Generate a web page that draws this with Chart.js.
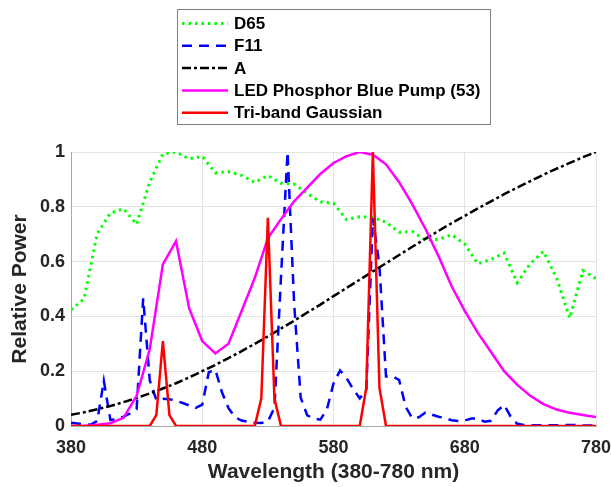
<!DOCTYPE html>
<html>
<head>
<meta charset="utf-8">
<script src="https://cdn.jsdelivr.net/npm/chart.js@4.4.1/dist/chart.umd.min.js"></script>
<style>
  html, body { margin: 0; padding: 0; background: #fff; }
</style>
</head>
<body>
<canvas id="spectra" width="611" height="487"></canvas>
<script>
// wavelength grids (nm)
const wl10 = [380, 390, 400, 410, 420, 430, 440, 450, 460, 470, 480, 490, 500, 510, 520, 530, 540, 550, 560, 570,
              580, 590, 600, 610, 620, 630, 640, 650, 660, 670, 680, 690, 700, 710, 720, 730, 740, 750, 760, 770, 780];
const wl5 = [380, 385, 390, 395, 400, 405, 410, 415, 420, 425, 430, 435, 440, 445, 450, 455, 460, 465, 470, 475,
             480, 485, 490, 495, 500, 505, 510, 515, 520, 525, 530, 535, 540, 545, 550, 555, 560, 565, 570, 575,
             580, 585, 590, 595, 600, 605, 610, 615, 620, 625, 630, 635, 640, 645, 650, 655, 660, 665, 670, 675,
             680, 685, 690, 695, 700, 705, 710, 715, 720, 725, 730, 735, 740, 745, 750, 755, 760, 765, 770, 775, 780];

// relative spectral power, each normalised to its own peak
const d65 = [0.424, 0.464, 0.702, 0.777, 0.793, 0.736, 0.890, 0.993, 1.000, 0.975, 0.984, 0.924, 0.928, 0.915,
             0.889, 0.914, 0.886, 0.883, 0.849, 0.818, 0.813, 0.753, 0.764, 0.761, 0.744, 0.707, 0.710, 0.679,
             0.681, 0.698, 0.664, 0.592, 0.608, 0.631, 0.523, 0.593, 0.637, 0.540, 0.394, 0.567, 0.538];
const f11 = [0.012, 0.009, 0.006, 0.005, 0.018, 0.165, 0.022, 0.025, 0.034, 0.046,
             0.062, 0.466, 0.167, 0.095, 0.099, 0.098, 0.092, 0.084, 0.075, 0.066,
             0.078, 0.196, 0.205, 0.123, 0.065, 0.032, 0.020, 0.015, 0.012, 0.011,
             0.016, 0.067, 0.544, 1.000, 0.448, 0.103, 0.039, 0.027, 0.023, 0.061,
             0.155, 0.203, 0.175, 0.134, 0.101, 0.133, 0.759, 0.585, 0.181, 0.181,
             0.168, 0.070, 0.028, 0.032, 0.049, 0.041, 0.034, 0.029, 0.021, 0.018,
             0.020, 0.027, 0.027, 0.016, 0.019, 0.056, 0.077, 0.034, 0.008, 0.004,
             0.003, 0.003, 0.003, 0.003, 0.003, 0.003, 0.004, 0.004, 0.002, 0.002, 0.001];
const illumA = [0.041, 0.050, 0.061, 0.073, 0.087, 0.102, 0.119, 0.137, 0.156, 0.177, 0.200, 0.223, 0.248, 0.273,
                0.300, 0.327, 0.356, 0.384, 0.414, 0.443, 0.474, 0.504, 0.534, 0.564, 0.594, 0.624, 0.654, 0.683,
                0.712, 0.740, 0.767, 0.794, 0.820, 0.846, 0.870, 0.894, 0.917, 0.939, 0.960, 0.981, 1.000];
const ledBluePump = [0.000, 0.000, 0.005, 0.010, 0.030, 0.110, 0.280, 0.590, 0.675, 0.430, 0.310, 0.265, 0.300, 0.420,
                     0.540, 0.685, 0.755, 0.820, 0.870, 0.920, 0.960, 0.985, 1.000, 0.990, 0.955, 0.890, 0.810, 0.720,
                     0.620, 0.510, 0.420, 0.340, 0.270, 0.200, 0.150, 0.110, 0.080, 0.060, 0.048, 0.040, 0.033];
const triBandWl = [380, 440, 445, 450, 455, 460, 520, 525, 530, 535, 540, 600, 605, 610, 615, 620, 780];
const triBand = [0, 0, 0.04, 0.31, 0.04, 0, 0, 0.10, 0.76, 0.10, 0, 0, 0.14, 1.00, 0.14, 0, 0];

const xTicks = [380, 480, 580, 680, 780];
const yTicks = [0, 0.2, 0.4, 0.6, 0.8, 1];
const yTickLabels = ['0', '0.2', '0.4', '0.6', '0.8', '1'];
const seriesLabels = ['D65', 'F11', 'A', 'LED Phosphor Blue Pump (53)', 'Tri-band Gaussian'];

const FONT = "'Liberation Sans', Arial, sans-serif";
const TEXT = '#262626';

function pts(xs, ys) {
    return xs.map((x, i) => ({ x: x, y: ys[i] }));
}

// boxed legend in the top area, one row per series
const boxLegend = {
    id: 'boxLegend',
    afterDraw(chart) {
        const ctx = chart.ctx;
        const box = { x: 177.5, y: 9.5, w: 313, h: 115 };
        ctx.save();
        ctx.fillStyle = '#fff';
        ctx.fillRect(box.x, box.y, box.w, box.h);
        ctx.strokeStyle = '#7f7f7f';
        ctx.lineWidth = 1;
        ctx.strokeRect(box.x, box.y, box.w, box.h);
        chart.data.datasets.forEach((ds, i) => {
            const y = 23.5 + i * 22.3;
            ctx.beginPath();
            ctx.setLineDash(ds.borderDash || []);
            ctx.lineWidth = ds.borderWidth;
            ctx.strokeStyle = ds.borderColor;
            ctx.moveTo(182, y);
            ctx.lineTo(228, y);
            ctx.stroke();
            ctx.setLineDash([]);
            ctx.fillStyle = '#000';
            ctx.font = 'bold 17px ' + FONT;
            ctx.textBaseline = 'middle';
            ctx.fillText(ds.label, 234, y + 1);
        });
        ctx.restore();
    }
};

const datasets = [
    { label: seriesLabels[0], data: pts(wl10, d65), borderColor: '#00ff00', borderWidth: 3, borderDash: [2.5, 4], order: 4 },
    { label: seriesLabels[1], data: pts(wl5, f11), borderColor: '#0000ff', borderWidth: 2.5, borderDash: [10, 7], order: 3 },
    { label: seriesLabels[2], data: pts(wl10, illumA), borderColor: '#000000', borderWidth: 2.5, borderDash: [9, 3, 3, 3], order: 2 },
    { label: seriesLabels[3], data: pts(wl10, ledBluePump), borderColor: '#ff00ff', borderWidth: 2.5, order: 1 },
    { label: seriesLabels[4], data: pts(triBandWl, triBand), borderColor: '#ff0000', borderWidth: 2.5, order: 0 }
];
datasets.forEach(ds => {
    ds.pointRadius = 0;
    ds.fill = false;
    ds.tension = 0;
    ds.borderJoinStyle = 'miter';
});

new Chart(document.getElementById('spectra'), {
    type: 'line',
    data: { datasets: datasets },
    plugins: [boxLegend],
    options: {
        responsive: false,
        animation: false,
        layout: { padding: { top: 152, right: 15, bottom: 0, left: 0 } },
        plugins: {
            legend: { display: false },
            tooltip: { enabled: false }
        },
        scales: {
            x: {
                type: 'linear',
                min: 380,
                max: 780,
                afterBuildTicks: s => { s.ticks = xTicks.map(v => ({ value: v })); },
                afterFit: s => { s.height = 61; s.paddingLeft = 0; s.paddingRight = 0; },
                grid: { color: '#e3e3e3', drawTicks: false },
                border: { color: '#a6a6a6', width: 1 },
                ticks: {
                    padding: 11,
                    color: TEXT,
                    font: { family: FONT, size: 18, weight: 'bold' },
                    callback: v => String(v)
                },
                title: {
                    display: true,
                    text: 'Wavelength (380-780 nm)',
                    color: TEXT,
                    font: { family: FONT, size: 21, weight: 'bold' },
                    padding: { top: 0, bottom: 2 }
                }
            },
            y: {
                min: 0,
                max: 1,
                afterBuildTicks: s => { s.ticks = yTicks.map(v => ({ value: v })); },
                afterFit: s => { s.width = 71; },
                grid: { color: '#e3e3e3', drawTicks: false },
                border: { color: '#a6a6a6', width: 1 },
                ticks: {
                    padding: 6,
                    color: TEXT,
                    font: { family: FONT, size: 18, weight: 'bold' },
                    callback: (v, i) => yTickLabels[i]
                },
                title: {
                    display: true,
                    text: 'Relative Power',
                    color: TEXT,
                    font: { family: FONT, size: 21, weight: 'bold' },
                    padding: { top: 8, bottom: 0 }
                }
            }
        }
    }
});
</script>
</body>
</html>
